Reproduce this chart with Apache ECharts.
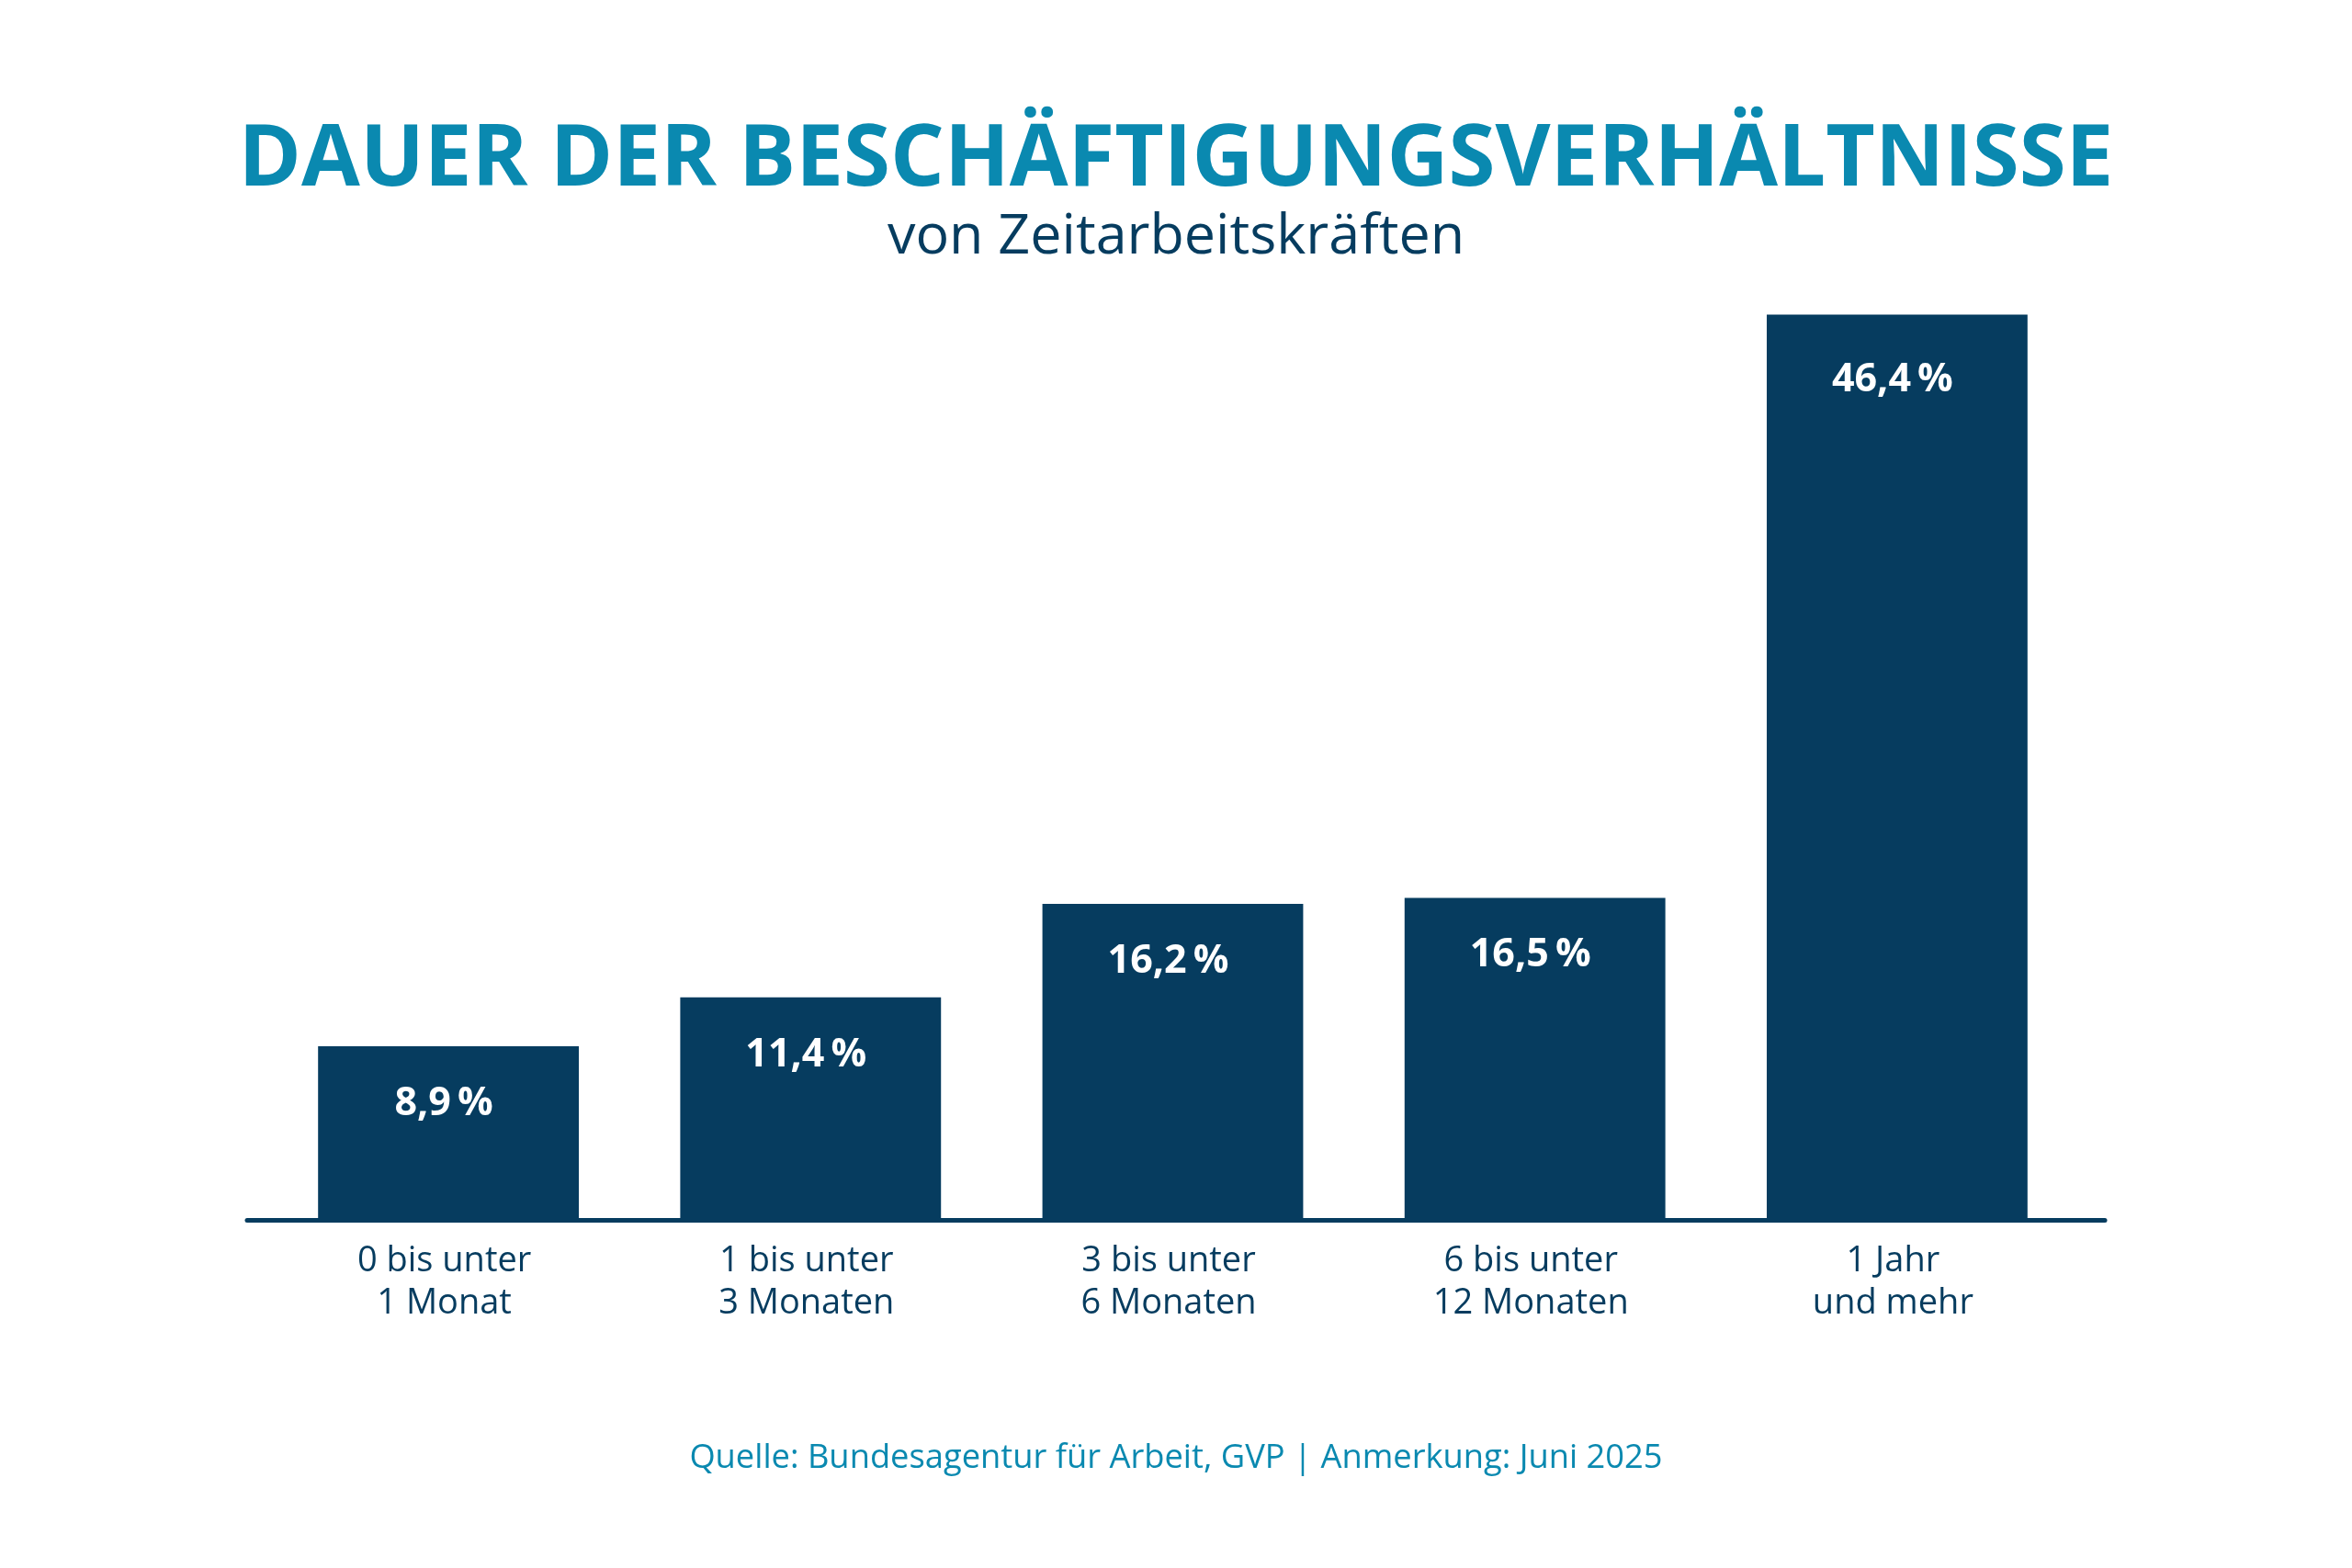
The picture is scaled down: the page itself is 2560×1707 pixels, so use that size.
<!DOCTYPE html>
<html>
<head>
<meta charset="utf-8">
<script src="https://cdn.jsdelivr.net/npm/echarts@6/dist/echarts.min.js"></script>
<style>
html,body{margin:0;padding:0;background:#fff;}
#chart{width:2560px;height:1707px;}
</style>
</head>
<body>
<div id="chart"></div>
<script>
var titleText = 'DAUER DER BESCHÄFTIGUNGSVERHÄLTNISSE';
var subtitleText = 'von Zeitarbeitskräften';
var sourceText = 'Quelle: Bundesagentur für Arbeit, GVP | Anmerkung: Juni 2025';
var categories = ['0 bis unter\n1 Monat', '1 bis unter\n3 Monaten', '3 bis unter\n6 Monaten', '6 bis unter\n12 Monaten', '1 Jahr\nund mehr'];
var shares = [8.9, 11.4, 16.2, 16.5, 46.4];

var NAVY = '#063c5f';
var TEAL = '#0a89b0';
var FONT = 'Open Sans';

var barData = shares.map(function (v, i) {
  return i === shares.length - 1 ? {value: v, label: {distance: 50}} : v;
});

var chart = echarts.init(document.getElementById('chart'), null, {renderer: 'canvas'});
chart.setOption({
  backgroundColor: '#ffffff',
  animation: false,
  textStyle: {fontFamily: FONT},
  title: [
    {text: titleText, left: 'center', top: 125,
     textStyle: {fontFamily: FONT, fontWeight: 'bold', fontSize: 92.5, lineHeight: 92, color: TEAL}},
    {text: subtitleText, left: 'center', top: 223,
     textStyle: {fontFamily: FONT, fontWeight: 'normal', fontSize: 61, lineHeight: 61, color: NAVY}},
    {text: sourceText, left: 'center', top: 1565,
     textStyle: {fontFamily: FONT, fontWeight: 'normal', fontSize: 36.3, lineHeight: 36, color: TEAL}}
  ],
  grid: [
    {left: 291, right: 298, top: 266, bottom: 379},
    {left: 269, right: 269, top: 266, bottom: 379}
  ],
  xAxis: [
    {type: 'category', gridIndex: 0, data: categories,
     axisLine: {show: false}, axisTick: {show: false}, splitLine: {show: false},
     axisLabel: {margin: 22, fontFamily: FONT, fontSize: 38, lineHeight: 46, color: NAVY, interval: 0,
                 padding: [0, 9, 0, 0]}},
    {type: 'value', gridIndex: 1, min: 0, max: 1,
     axisLine: {show: true, onZero: false, lineStyle: {color: NAVY, width: 5}},
     axisTick: {show: false}, axisLabel: {show: false}, splitLine: {show: false}}
  ],
  yAxis: [
    {type: 'value', gridIndex: 0, min: 0, max: 50, show: false, splitLine: {show: false}},
    {type: 'value', gridIndex: 1, min: 0, max: 50, show: false, splitLine: {show: false}}
  ],
  series: [{
    type: 'bar',
    xAxisIndex: 0, yAxisIndex: 0,
    data: barData,
    barWidth: '72%',
    itemStyle: {color: NAVY},
    label: {
      show: true,
      position: 'insideTop',
      distance: 41,
      offset: [-5, 0],
      fontFamily: FONT, fontWeight: 'bold', fontSize: 43, lineHeight: 43,
      color: '#ffffff',
      formatter: function (p) { return p.value.toFixed(1).replace('.', ',') + '\u2009%'; }
    }
  }]
});
</script>
</body>
</html>
